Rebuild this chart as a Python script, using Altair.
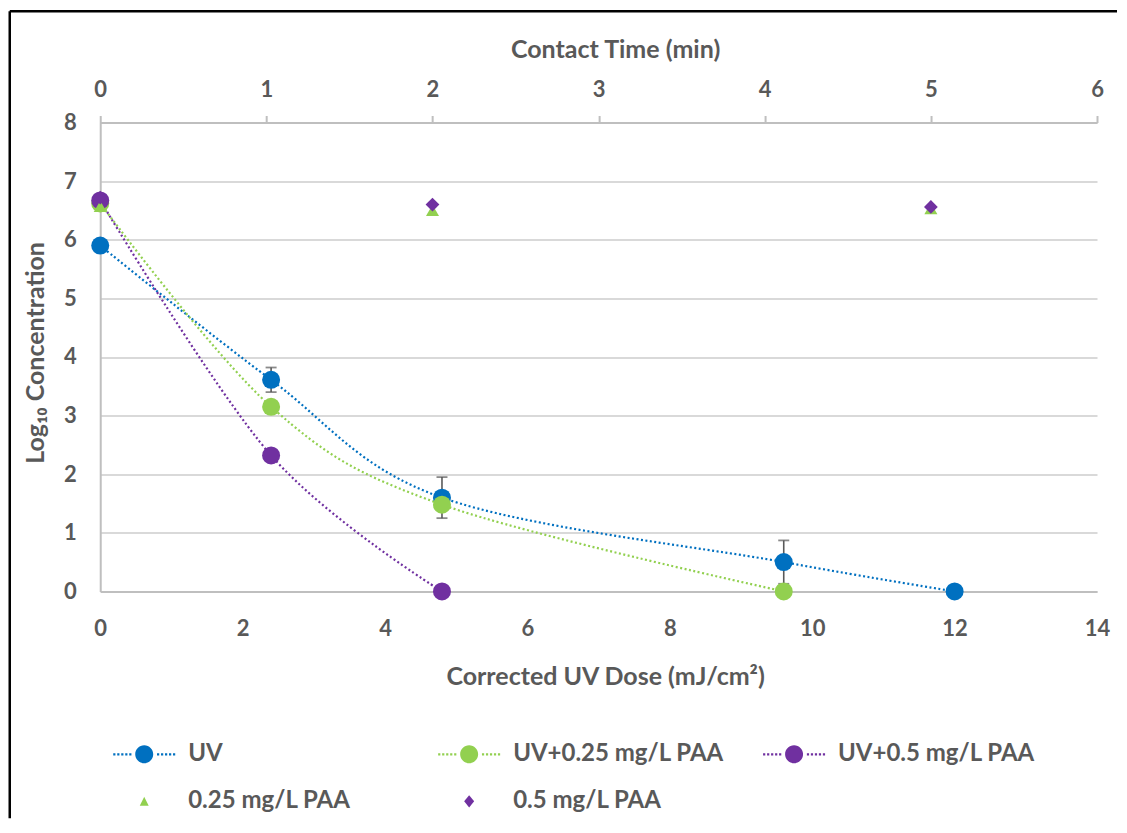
import altair as alt
import pandas as pd

# ---------------- data ----------------
series_names = ["UV", "UV+0.25 mg/L PAA", "UV+0.5 mg/L PAA", "0.25 mg/L PAA", "0.5 mg/L PAA"]
series_colors = ["#0070C0", "#92D050", "#7030A0", "#92D050", "#7030A0"]

uv_dose = [0.0, 2.4, 4.8, 9.6, 12.0]
uv_log = [5.9, 3.61, 1.6, 0.5, 0.0]

uv_err_dose = [2.4, 4.8, 9.6]
uv_err_mean = [3.61, 1.6, 0.5]
uv_err_sd = [0.21, 0.35, 0.37]

uv025_dose = [0.0, 2.4, 4.8, 9.6]
uv025_log = [6.62, 3.15, 1.48, 0.0]

uv05_dose = [0.0, 2.4, 4.8]
uv05_log = [6.67, 2.32, 0.0]

paa_time = [0, 2, 5]
paa025_log = [6.57, 6.5, 6.53]
paa05_log = [6.72, 6.6, 6.56]

dose_ticks = [0, 2, 4, 6, 8, 10, 12, 14]
time_ticks = [0, 1, 2, 3, 4, 5, 6]
log_ticks = [0, 1, 2, 3, 4, 5, 6, 7, 8]

# ---------------- tables ----------------
curves = pd.concat([
    pd.DataFrame({"dose": uv_dose, "log": uv_log, "series": series_names[0]}),
    pd.DataFrame({"dose": uv025_dose, "log": uv025_log, "series": series_names[1]}),
    pd.DataFrame({"dose": uv05_dose, "log": uv05_log, "series": series_names[2]}),
], ignore_index=True)

errs = pd.DataFrame({
    "dose": uv_err_dose,
    "lo": [m - s for m, s in zip(uv_err_mean, uv_err_sd)],
    "hi": [m + s for m, s in zip(uv_err_mean, uv_err_sd)],
})

paa025 = pd.DataFrame({"time": paa_time, "log": paa025_log, "series": series_names[3]})
paa05 = pd.DataFrame({"time": paa_time, "log": paa05_log, "series": series_names[4]})

legend_df = pd.DataFrame({
    "dose": pd.Series([], dtype=float),
    "log": pd.Series([], dtype=float),
    "series": pd.Series([], dtype=str),
})

# ---------------- styles ----------------
FONT = "Lato"
TXT = "#595959"
AXIS_GRAY = "#BFBFBF"
GRID_GRAY = "#D9D9D9"
FS = 22      # tick labels
TFS = 25     # axis titles
LFS = 24     # legend labels


def marker_with_dots(r=0.9, half=3.1, step=0.4, dot=0.22):
    parts = []
    x = -half
    while x + dot < -r - 0.05:
        parts.append(f"M{x:.2f},{-dot/2:.2f}h{dot:.2f}v{dot:.2f}h{-dot:.2f}Z")
        parts.append(f"M{-x-dot:.2f},{-dot/2:.2f}h{dot:.2f}v{dot:.2f}h{-dot:.2f}Z")
        x += step
    parts.append(f"M{-r},0A{r},{r} 0 1,0 {r},0A{r},{r} 0 1,0 {-r},0Z")
    return "".join(parts)


line_sym = marker_with_dots()
tri_sym = "M0,-0.45L0.45,0.45L-0.45,0.45Z"
dia_sym = "M0,-0.62L0.5,0L0,0.62L-0.5,0Z"

color_scale = alt.Scale(domain=series_names, range=series_colors)
shape_scale = alt.Scale(domain=series_names, range=[line_sym, line_sym, line_sym, tri_sym, dia_sym])

x_scale = alt.Scale(domain=[0, 14], nice=False, zero=False)
t_scale = alt.Scale(domain=[0, 6], nice=False, zero=False)
y_scale = alt.Scale(domain=[0, 8], nice=False, zero=False)

common_axis = dict(
    labelFont=FONT, labelFontSize=FS, labelFontWeight="bold", labelColor=TXT,
    titleFont=FONT, titleFontSize=TFS, titleFontWeight="bold", titleColor=TXT,
    domainColor=AXIS_GRAY, domainWidth=2, labelFlush=False, format="d",
)

x_axis = alt.Axis(
    orient="bottom", values=dose_ticks, title="Corrected UV Dose (mJ/cm²)",
    grid=False, ticks=False, tickSize=0, labelPadding=27, titlePadding=25.5,
    titleX=505, **common_axis,
)
t_axis = alt.Axis(
    orient="top", values=time_ticks, title="Contact Time (min)",
    grid=False, ticks=True, tickSize=7, tickWidth=2, tickColor=AXIS_GRAY,
    labelPadding=14, titlePadding=16, titleX=515, **common_axis,
)
y_axis = alt.Axis(
    orient="left", values=log_ticks, title="Log₁₀ Concentration",
    grid=True, gridColor=GRID_GRAY, gridWidth=2, ticks=False, tickSize=0,
    labelPadding=24, titlePadding=14.5, titleY=230, **common_axis,
)

legend = alt.Legend(
    title=None, orient="none", legendX=32, legendY=620, direction="horizontal",
    columns=3, gridAlign="all", columnPadding=39, rowPadding=23,
    symbolSize=400, symbolStrokeWidth=0, symbolOpacity=1,
    labelFont=FONT, labelFontSize=LFS, labelFontWeight="bold", labelColor=TXT,
    labelOffset=32, labelLimit=500,
)

X = alt.X("dose:Q", scale=x_scale, axis=x_axis)
Y = alt.Y("log:Q", scale=y_scale, axis=y_axis)

legend_layer = alt.Chart(legend_df).mark_point(filled=True, size=400, opacity=1).encode(
    x=X, y=Y,
    color=alt.Color("series:N", scale=color_scale, legend=legend),
    shape=alt.Shape("series:N", scale=shape_scale, legend=legend),
)

lines = alt.Chart(curves).mark_line(
    interpolate="cardinal", tension=0, strokeDash=[2, 2.5], strokeWidth=2.2
).encode(x=X, y=Y, color=alt.Color("series:N", scale=color_scale, legend=None))

err_rule = alt.Chart(errs).mark_rule(color=TXT, strokeWidth=1.6).encode(
    x=X, y=alt.Y("lo:Q", scale=y_scale, axis=y_axis), y2="hi:Q"
)
err_lo = alt.Chart(errs).mark_tick(color=TXT, orient="horizontal", size=11, thickness=1.8).encode(
    x=X, y=alt.Y("lo:Q", scale=y_scale, axis=y_axis)
)
err_hi = alt.Chart(errs).mark_tick(color=TXT, orient="horizontal", size=11, thickness=1.8).encode(
    x=X, y=alt.Y("hi:Q", scale=y_scale, axis=y_axis)
)

dots = alt.Chart(curves).mark_point(shape="circle", filled=True, size=324, opacity=1).encode(
    x=X, y=Y, color=alt.Color("series:N", scale=color_scale, legend=None)
)

frame_df = pd.DataFrame({"k": [0]})
frame_left = alt.Chart(frame_df).mark_rule(color="black", strokeWidth=2.5).encode(
    x=alt.value(-90.5), y=alt.value(-111.3), y2=alt.value(696)
)
frame_top = alt.Chart(frame_df).mark_rule(color="black", strokeWidth=2.5).encode(
    x=alt.value(-90.5), x2=alt.value(1017), y=alt.value(-111.3)
)

dose_layer = alt.layer(legend_layer, frame_left, frame_top, lines, err_rule, err_lo, err_hi, dots)

T = alt.X("time:Q", scale=t_scale, axis=t_axis)
tri = alt.Chart(paa025).mark_point(shape="triangle-up", filled=True, size=170, opacity=1).encode(
    x=T, y=Y, color=alt.Color("series:N", scale=color_scale, legend=None)
)
dia = alt.Chart(paa05).mark_point(shape="diamond", filled=True, size=190, opacity=1).encode(
    x=T, y=Y, color=alt.Color("series:N", scale=color_scale, legend=None)
)
paa_layer = alt.layer(tri, dia)

chart = alt.layer(dose_layer, paa_layer).resolve_scale(x="independent").properties(
    width=997, height=469,
    padding={"left": 0.25, "top": 1.45, "right": 0, "bottom": 0},
    background="white",
).configure_view(strokeWidth=0)

chart.save("out.html", embed_options={"renderer": "svg", "actions": False})
